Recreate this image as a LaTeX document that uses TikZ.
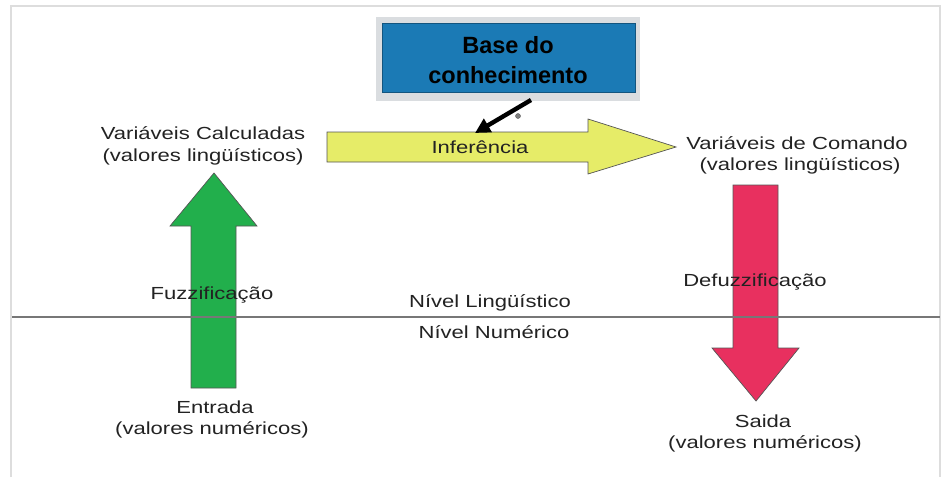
\documentclass[tikz,border=0pt]{standalone}
\usepackage{fontspec}
\setmainfont{Liberation Sans}
\newfontfamily\widefont[FakeStretch=1.26]{Liberation Sans}
\usetikzlibrary{arrows.meta}
\definecolor{framegray}{HTML}{DDDDDD}
\definecolor{linegray}{HTML}{777777}
\definecolor{txtgray}{HTML}{222222}
\definecolor{kbblue}{HTML}{1B7AB5}
\definecolor{kbshadow}{HTML}{DADDE0}
\definecolor{infyellow}{HTML}{E6EC68}
\definecolor{fuzgreen}{HTML}{22AF4C}
\definecolor{defred}{HTML}{E8305F}
\definecolor{outl}{HTML}{555555}
\begin{document}
\begin{tikzpicture}[x=1pt,y=-1pt,
  txt/.style={font=\widefont\fontsize{17.5}{21}\selectfont, text=txtgray, inner sep=0pt, anchor=base},
  bigarrow/.style={draw=outl, line width=0.7pt, line join=miter},
  kbarrow/.style={line width=4.4pt, -{Triangle[length=15pt,width=15pt]}}]
\useasboundingbox (0,0) rectangle (942,477);
% frame
\draw[framegray, line width=2pt] (11,477) -- (11,6) -- (940,6) -- (940,477);
% knowledge base box
\fill[kbshadow] (376,17) rectangle (640,101);
\node[fill=kbblue, draw=kbblue!70!black, line width=0.5pt, minimum width=253pt, minimum height=69pt, inner sep=0pt] (kb) at (508.5,57.5) {};
\node[font=\bfseries\fontsize{23.5}{30}\selectfont, inner sep=0pt, anchor=base] (kb1) at (508,53) {Base do};
\node[font=\bfseries\fontsize{23.5}{30}\selectfont, inner sep=0pt, anchor=base] (kb2) at (508,83) {conhecimento};
% inference arrow
\draw[bigarrow, fill=infyellow] (327,132) -- (588,132) -- (588,119) -- (676,147) -- (588,174) -- (588,162) -- (327,162) -- cycle;
\node[txt] (inf) at (480,153) {Inferência};
% fuzzification arrow
\draw[bigarrow, fill=fuzgreen] (191,388) -- (191,226) -- (170,226) -- (214,173) -- (257,226) -- (236,226) -- (236,388) -- cycle;
% defuzzification arrow
\draw[bigarrow, fill=defred] (733,185) -- (778,185) -- (778,348) -- (799,348) -- (756,401) -- (712,348) -- (733,348) -- cycle;
% level line
\coordinate (lvL) at (12,317);
\coordinate (lvR) at (940,317);
\draw[linegray, line width=1.3pt] (lvL) -- (lvR);
% knowledge -> inference
\coordinate (kbt) at (531,100);
\coordinate (inft) at (475,133);
\draw[kbarrow] (kbt) -- (inft);
\node[circle, draw=gray!70!black, fill=gray, inner sep=0pt, minimum size=5pt] (reg) at (518,116) {};
% texts
\node[txt] (vc1) at (203,139) {Variáveis Calculadas};
\node[txt] (vc2) at (203,161) {(valores lingüísticos)};
\node[txt] (vd1) at (797,149) {Variáveis de Comando};
\node[txt] (vd2) at (800,170) {(valores lingüísticos)};
\node[txt] (fz) at (212,299) {Fuzzificação};
\node[txt] (dfz) at (755,286) {Defuzzificação};
\node[txt] (nl) at (490,307) {Nível Lingüístico};
\node[txt] (nn) at (494,338) {Nível Numérico};
\node[txt] (en1) at (215,413) {Entrada};
\node[txt] (en2) at (212,434) {(valores numéricos)};
\node[txt] (sa1) at (763,427) {Saida};
\node[txt] (sa2) at (765,448) {(valores numéricos)};
\end{tikzpicture}
\end{document}
